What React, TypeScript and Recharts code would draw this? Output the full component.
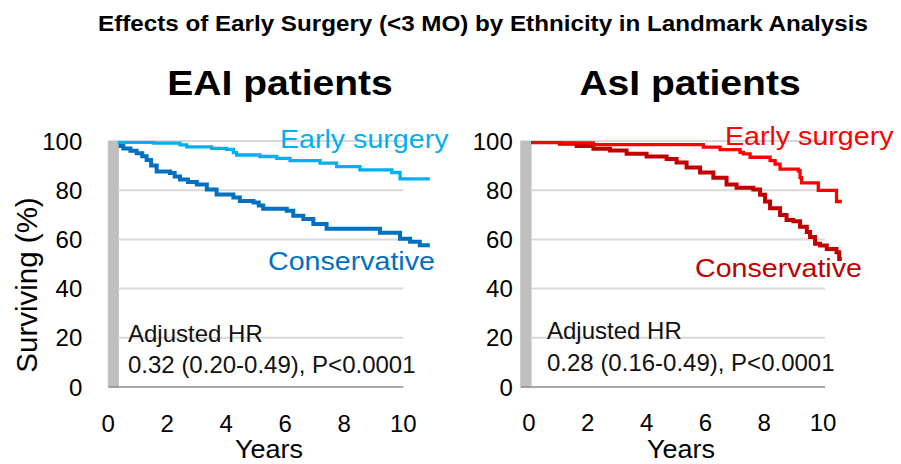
import React from 'react';
import { LineChart, Line, XAxis, YAxis, ReferenceLine, ReferenceArea } from 'recharts';

const FONT = '"Liberation Sans", Arial, Helvetica, sans-serif';

// ---- tick labels ----
const xTicks = [0, 2, 4, 6, 8, 10];
const yTicks = [0, 20, 40, 60, 80, 100];

// ---- EAI patients ----
const eaiEarlyYears = [0.34, 1.53, 2.43, 2.66, 3.5, 4.01, 4.24, 4.35, 5.14, 5.71, 6.16, 7.18, 7.74, 8.53, 9.61, 9.89, 10.9];
const eaiEarlySurv = [99.5, 99.1, 98.4, 97.6, 97.0, 96.6, 95.3, 94.3, 93.7, 92.9, 92.0, 91.0, 89.6, 88.3, 87.2, 84.6, 84.6];

const eaiConsYears = [0.34, 0.42, 0.51, 0.75, 0.96, 1.15, 1.3, 1.45, 1.64, 2.09, 2.25, 2.43, 2.7, 3.0, 3.34, 3.67, 4.24, 4.46, 4.92, 5.1, 5.25, 6.05, 6.27, 6.61, 6.95, 7.4, 9.21, 9.89, 10.23, 10.56, 10.9];
const eaiConsSurv = [99.5, 98.0, 97.0, 96.0, 95.0, 93.8, 92.3, 90.0, 87.6, 87.0, 85.6, 84.3, 83.3, 82.3, 80.3, 78.3, 77.0, 75.6, 75.0, 73.8, 72.5, 71.6, 69.6, 68.3, 66.3, 64.3, 62.7, 60.3, 59.0, 57.6, 57.6];

// ---- AsI patients ----
const asiEarlyYears = [0.07, 1.05, 2.19, 5.93, 6.5, 7.18, 7.29, 7.52, 8.2, 8.37, 8.54, 9.16, 9.22, 9.27, 9.84, 10.46, 10.64];
const asiEarlySurv = [99.5, 99.2, 98.5, 97.5, 96.5, 95.4, 94.8, 93.4, 92.0, 90.6, 88.6, 87.9, 85.1, 83.0, 79.9, 75.4, 75.4];

const asiConsYears = [0.07, 1.05, 1.62, 2.19, 2.76, 3.32, 4.0, 4.68, 5.02, 5.36, 5.82, 6.27, 6.72, 7.06, 7.63, 7.86, 8.03, 8.2, 8.54, 8.76, 8.99, 9.22, 9.45, 9.56, 9.73, 9.9, 10.13, 10.46, 10.55, 10.64];
const asiConsSurv = [99.5, 98.9, 98.0, 96.8, 96.1, 94.8, 93.7, 92.7, 91.3, 89.2, 87.2, 85.1, 82.3, 81.0, 80.3, 78.2, 75.4, 72.7, 69.9, 67.9, 67.4, 65.1, 63.0, 61.0, 58.2, 57.5, 56.1, 54.8, 52.0, 52.0];

type Pt = { t: number; s: number };
const toPts = (ts: number[], ss: number[]): Pt[] => ts.map((t, i) => ({ t, s: ss[i] }));

const makeYTick = (off: number) => (props: any) => {
  const { x, y, payload } = props;
  return (
    <text x={x - off} y={y + 8.6} textAnchor="end" fontFamily={FONT} fontSize={24} fill="#000">
      {payload.value}
    </text>
  );
};

const makeXTick = (dy: number) => (props: any) => {
  const { x, y, payload } = props;
  return (
    <text x={x} y={y + dy} textAnchor="middle" fontFamily={FONT} fontSize={24} fill="#000">
      {payload.value}
    </text>
  );
};

type PanelProps = {
  left: number;
  width: number;
  yAxisWidth: number;
  marginRight: number;
  domain: [number, number];
  bar: [number, number];
  grid: [number, number];
  early: Pt[];
  cons: Pt[];
  earlyColor: string;
  consColor: string;
  yTickOff: number;
  xTickDy: number;
};

function Panel(p: PanelProps) {
  return (
    <div style={{ position: 'absolute', left: p.left, top: 0, width: p.width, height: 464 }}>
      <LineChart width={p.width} height={464} margin={{ top: 141, right: p.marginRight, bottom: 37, left: 0 }}>
        <XAxis
          type="number"
          dataKey="t"
          domain={p.domain}
          ticks={xTicks}
          allowDataOverflow
          axisLine={false}
          tickLine={false}
          tickSize={0}
          tickMargin={0}
          height={40}
          interval={0}
          tick={makeXTick(p.xTickDy)}
        />
        <YAxis
          type="number"
          domain={[0, 100]}
          ticks={yTicks}
          allowDataOverflow
          axisLine={false}
          tickLine={false}
          tickSize={0}
          tickMargin={0}
          width={p.yAxisWidth}
          interval={0}
          tick={makeYTick(p.yTickOff)}
        />
        {[20, 40, 60, 80, 100].map((v) => (
          <ReferenceLine
            key={v}
            segment={[{ x: p.grid[0], y: v }, { x: p.grid[1], y: v }]}
            stroke="#d9d9d9"
            strokeWidth={2}
          />
        ))}
        <ReferenceArea
          x1={p.bar[0]}
          x2={p.bar[1]}
          y1={0}
          y2={100}
          ifOverflow="visible"
          fill="#bfbfbf"
          fillOpacity={1}
          stroke="#bfbfbf"
          strokeWidth={1}
        />
        <ReferenceLine
          segment={[{ x: p.bar[0], y: 0 }, { x: p.grid[1], y: 0 }]}
          ifOverflow="visible"
          stroke="#8c8c8c"
          strokeWidth={1.5}
        />
        <Line data={p.cons} dataKey="s" type="stepAfter" stroke={p.consColor} strokeWidth={4} dot={false} isAnimationActive={false} />
        <Line data={p.early} dataKey="s" type="stepAfter" stroke={p.earlyColor} strokeWidth={3.3} dot={false} isAnimationActive={false} />
      </LineChart>
    </div>
  );
}

function T(props: { x: number; y: number; size: number; sx?: number; color?: string; bold?: boolean; anchor?: 'start' | 'middle' | 'end'; rot?: number; children: React.ReactNode }) {
  const sx = props.sx ?? 1;
  const tr = `translate(${props.x},${props.y})${props.rot ? ` rotate(${props.rot})` : ''} scale(${sx},1)`;
  return (
    <text
      transform={tr}
      x={0}
      y={0}
      fontFamily={FONT}
      fontSize={props.size}
      fontWeight={props.bold ? 'bold' : 'normal'}
      fill={props.color ?? '#000'}
      textAnchor={props.anchor ?? 'start'}
    >
      {props.children}
    </text>
  );
}

export default function App() {
  const pxL = 29.5;
  const pxR = 29.4;
  const lDomain: [number, number] = [0, 11.1];
  const rDomain: [number, number] = [-0.28, 11.1];
  const rPlotLeft = 529 - 0.28 * pxR - 450;
  const rPlotW = (rDomain[1] - rDomain[0]) * pxR;
  const lPlotW = (lDomain[1] - lDomain[0]) * pxL;
  return (
    <div style={{ position: 'absolute', left: 0, top: 0, width: 901, height: 464, background: '#fff', overflow: 'hidden' }}>
      <Panel
        left={0}
        width={450}
        yAxisWidth={108.3}
        marginRight={450 - 108.3 - lPlotW}
        domain={lDomain}
        bar={[0, 0.34]}
        grid={[0.34, 10]}
        early={toPts(eaiEarlyYears, eaiEarlySurv)}
        cons={toPts(eaiConsYears, eaiConsSurv)}
        earlyColor="#00b0f0"
        consColor="#0070c0"
        yTickOff={26}
        xTickDy={44.7}
      />
      <Panel
        left={450}
        width={451}
        yAxisWidth={rPlotLeft}
        marginRight={451 - rPlotLeft - rPlotW}
        domain={rDomain}
        bar={[-0.28, 0.07]}
        grid={[0.07, 10.07]}
        early={toPts(asiEarlyYears, asiEarlySurv)}
        cons={toPts(asiConsYears, asiConsSurv)}
        earlyColor="#ff0000"
        consColor="#c00000"
        yTickOff={8}
        xTickDy={43.5}
      />
      <svg width={901} height={464} style={{ position: 'absolute', left: 0, top: 0, pointerEvents: 'none' }}>
        <T x={483} y={31} size={22} sx={1.1} bold anchor="middle">Effects of Early Surgery (&lt;3 MO) by Ethnicity in Landmark Analysis</T>
        <T x={280} y={95} size={35.5} sx={1.1} bold anchor="middle">EAI patients</T>
        <T x={690} y={95} size={35.5} sx={1.1} bold anchor="middle">AsI patients</T>

        <T x={280} y={148.3} size={26} sx={1.1} color="#00b0f0">Early surgery</T>
        <T x={268} y={270} size={26} sx={1.1} color="#0070c0">Conservative</T>
        <T x={725} y={145} size={26} sx={1.1} color="#ff0000">Early surgery</T>
        <T x={695} y={276.7} size={26} sx={1.1} color="#c00000">Conservative</T>

        <T x={128} y={341.7} size={24} color="#111">Adjusted HR</T>
        <T x={128} y={372.7} size={24} color="#111">0.32 (0.20-0.49), P&lt;0.0001</T>
        <T x={547} y={339} size={24} color="#111">Adjusted HR</T>
        <T x={547} y={370.7} size={24} color="#111">0.28 (0.16-0.49), P&lt;0.0001</T>

        <T x={37} y={285} size={29.5} rot={-90} anchor="middle">Surviving (%)</T>
        <T x={269} y={458} size={25} sx={1.08} anchor="middle">Years</T>
        <T x={681} y={458} size={25} sx={1.08} anchor="middle">Years</T>
      </svg>
    </div>
  );
}
